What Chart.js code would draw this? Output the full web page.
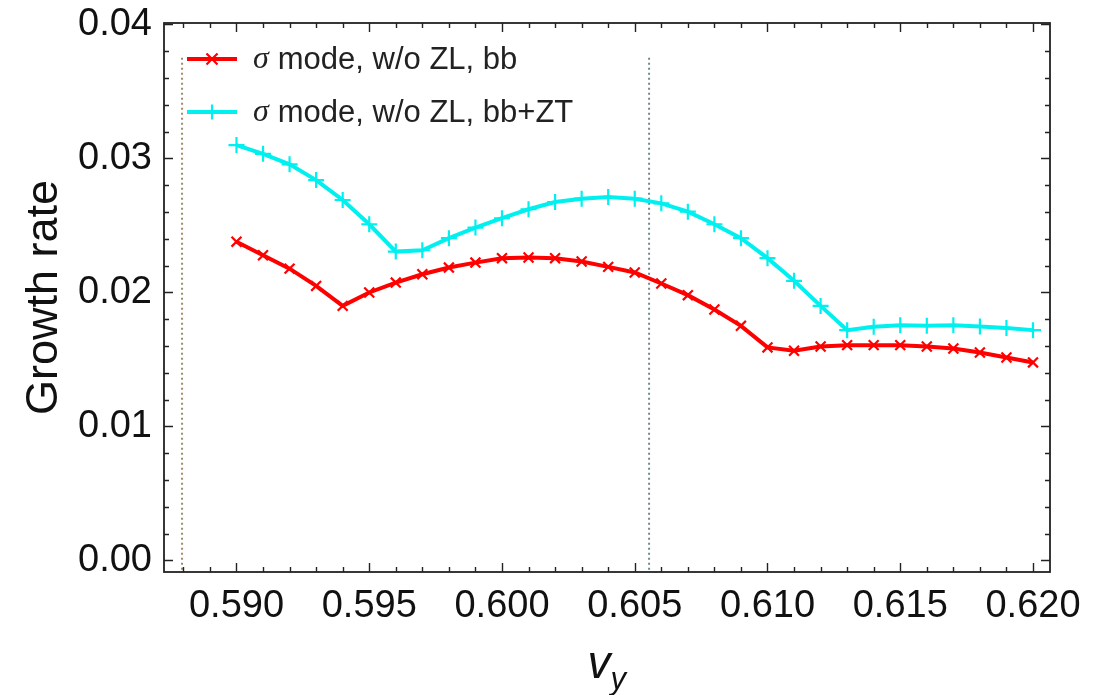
<!DOCTYPE html>
<html>
<head>
<meta charset="utf-8">
<script src="https://cdn.jsdelivr.net/npm/chart.js@4.4.1/dist/chart.umd.min.js"></script>
<style>
html,body{margin:0;padding:0;background:#fff;}
#wrap{width:1099px;height:695px;}
</style>
</head>
<body>
<div id="wrap"><canvas id="c" width="1099" height="695"></canvas></div>
<script>
// ---- data ----
const vy = [0.590,0.591,0.592,0.593,0.594,0.595,0.596,0.597,0.598,0.599,0.600,
            0.601,0.602,0.603,0.604,0.605,0.606,0.607,0.608,0.609,0.610,
            0.611,0.612,0.613,0.614,0.615,0.616,0.617,0.618,0.619,0.620];
const rateBB = [0.02378,0.02277,0.02177,0.02048,0.01899,0.01999,0.02073,0.02135,0.02185,0.02222,0.02255,
                0.02260,0.02255,0.02230,0.02190,0.02148,0.02066,0.01979,0.01872,0.01750,0.01589,
                0.01564,0.01596,0.01606,0.01606,0.01606,0.01596,0.01581,0.01551,0.01514,0.01477];
const rateBBZT = [0.03099,0.03034,0.02955,0.02838,0.02689,0.02508,0.02304,0.02314,0.02404,0.02483,0.02553,
                  0.02620,0.02674,0.02699,0.02711,0.02699,0.02664,0.02602,0.02508,0.02404,0.02255,
                  0.02086,0.01899,0.01718,0.01743,0.01755,0.01750,0.01755,0.01745,0.01733,0.01718];
const seriesNames = ['mode, w/o ZL, bb', 'mode, w/o ZL, bb+ZT'];
const xTickValues = [0.590,0.595,0.600,0.605,0.610,0.615,0.620];
const yTickValues = [0.00,0.01,0.02,0.03,0.04];
const xMinorStep = 0.001;
const yMinorStep = 0.002;
const refLinesX = [0.58795, 0.60554];
const refLineTop = 0.0375;

const X_MIN = 0.58727, X_MAX = 0.62064, Y_MIN = -0.00087, Y_MAX = 0.0401;
const RED = '#ff0000', CYAN = '#00f0f0';
const FONT = "'Liberation Sans', Arial, sans-serif";

function pts(xs, ys){ return xs.map((x,i)=>({x:x, y:ys[i]})); }

const framePlugin = {
  id:'frame',
  afterDraw(chart){
    const ctx = chart.ctx, a = chart.chartArea;
    const xs = chart.scales.x, ys = chart.scales.y;
    ctx.save();
    ctx.strokeStyle = '#222';
    ctx.lineWidth = 1.8;
    ctx.strokeRect(a.left, a.top, a.right-a.left, a.bottom-a.top);
    ctx.lineWidth = 1.4;
    for (let k = 0; ; k++){
      const v = 0.588 + k*xMinorStep;
      if (v > X_MAX) break;
      const major = xTickValues.some(t=>Math.abs(t-v)<1e-7);
      const len = major ? 9 : 5;
      const px = Math.round(xs.getPixelForValue(v))+0.5;
      ctx.beginPath();
      ctx.moveTo(px, a.bottom); ctx.lineTo(px, a.bottom-len);
      ctx.moveTo(px, a.top); ctx.lineTo(px, a.top+len);
      ctx.stroke();
    }
    for (let k = 0; ; k++){
      const v = k*yMinorStep;
      if (v > Y_MAX+1e-9) break;
      const major = yTickValues.some(t=>Math.abs(t-v)<1e-7);
      const len = major ? 9 : 5;
      const py = Math.round(ys.getPixelForValue(v))+0.5;
      ctx.beginPath();
      ctx.moveTo(a.left, py); ctx.lineTo(a.left+len, py);
      ctx.moveTo(a.right, py); ctx.lineTo(a.right-len, py);
      ctx.stroke();
    }
    // legend
    const rows = [
      {color:RED, style:'x', name:seriesNames[0]},
      {color:CYAN, style:'+', name:seriesNames[1]}
    ];
    rows.forEach((r,i)=>{
      const y = a.top + 36 + i*53;
      const x0 = a.left + 23, x1 = a.left + 73, xm = (x0+x1)/2;
      ctx.strokeStyle = r.color; ctx.lineWidth = 4;
      ctx.beginPath(); ctx.moveTo(x0,y); ctx.lineTo(x1,y); ctx.stroke();
      ctx.lineWidth = 2.2;
      ctx.beginPath();
      if (r.style==='x'){ const d=5.5; ctx.moveTo(xm-d,y-d); ctx.lineTo(xm+d,y+d); ctx.moveTo(xm+d,y-d); ctx.lineTo(xm-d,y+d); }
      else { const d=7.5; ctx.moveTo(xm,y-d); ctx.lineTo(xm,y+d); ctx.moveTo(xm-d,y); ctx.lineTo(xm+d,y); }
      ctx.stroke();
      ctx.fillStyle = '#222';
      ctx.textBaseline = 'middle';
      ctx.textAlign = 'left';
      let tx = a.left + 89;
      ctx.font = "italic 32px 'Liberation Serif', 'DejaVu Serif', serif";
      ctx.fillText('σ', tx, y+1);
      tx += ctx.measureText('σ').width + 9;
      ctx.font = "31px " + FONT;
      ctx.fillText(r.name, tx, y+1);
    });
    // x axis title v_y
    ctx.fillStyle = '#111';
    ctx.textBaseline = 'alphabetic';
    ctx.textAlign = 'left';
    const cx = (a.left + a.right)/2;
    ctx.font = "italic 46px " + FONT;
    const wv = ctx.measureText('v').width;
    ctx.fillText('v', cx - wv/2 - 8, 678);
    ctx.font = "italic 31px " + FONT;
    ctx.fillText('y', cx + wv/2 - 8, 689);
    ctx.restore();
  }
};

new Chart(document.getElementById('c'), {
  type:'line',
  data:{
    datasets:[
      {label:'σ '+seriesNames[0], data:pts(vy, rateBB), borderColor:RED, backgroundColor:RED,
       borderWidth:4, pointStyle:'crossRot', pointRadius:7, pointBorderWidth:2.2,
       pointBorderColor:RED, tension:0, order:1},
      {label:'σ '+seriesNames[1], data:pts(vy, rateBBZT), borderColor:CYAN, backgroundColor:CYAN,
       borderWidth:4, pointStyle:'cross', pointRadius:8, pointBorderWidth:2.2,
       pointBorderColor:CYAN, tension:0, order:2},
      {label:'ref1', data:[{x:refLinesX[0],y:refLineTop},{x:refLinesX[0],y:Y_MIN}], borderColor:'#a08a6a',
       borderWidth:2, borderDash:[2,3], pointRadius:0, order:5},
      {label:'ref2', data:[{x:refLinesX[1],y:refLineTop},{x:refLinesX[1],y:Y_MIN}], borderColor:'#6f8794',
       borderWidth:2, borderDash:[2,3], pointRadius:0, order:5}
    ]
  },
  options:{
    responsive:false,
    animation:false,
    devicePixelRatio:1,
    layout:{padding:{left:0, right:49, top:23, bottom:0}},
    plugins:{legend:{display:false}, tooltip:{enabled:false}},
    scales:{
      x:{type:'linear', min:X_MIN, max:X_MAX,
         grid:{display:false, drawTicks:false}, border:{display:false},
         afterBuildTicks:(s)=>{ s.ticks = xTickValues.map(v=>({value:v})); },
         afterFit:(s)=>{ s.height = 123; s.paddingLeft = 0; s.paddingRight = 0; },
         ticks:{padding:12, color:'#111', maxRotation:0, autoSkip:false,
                font:{family:FONT, size:38},
                callback:(v)=>Number(v).toFixed(3)}},
      y:{type:'linear', min:Y_MIN, max:Y_MAX,
         grid:{display:false, drawTicks:false}, border:{display:false},
         afterBuildTicks:(s)=>{ s.ticks = yTickValues.map(v=>({value:v})); },
         afterFit:(s)=>{ s.width = 164; s.paddingTop = 0; s.paddingBottom = 0; },
         title:{display:true, text:'Growth rate', color:'#111', font:{family:FONT, size:45}, padding:{top:18, bottom:0}},
         ticks:{padding:12, color:'#111', autoSkip:false,
                font:{family:FONT, size:38},
                callback:(v)=>Number(v).toFixed(2)}}
    }
  },
  plugins:[framePlugin]
});
</script>
</body>
</html>
